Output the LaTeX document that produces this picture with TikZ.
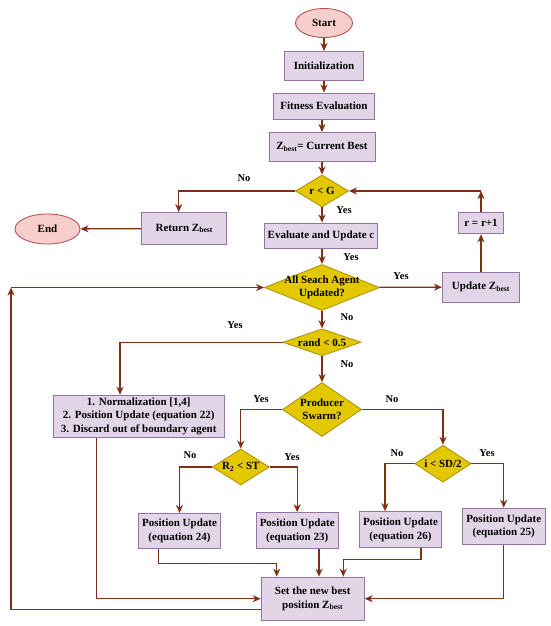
\documentclass[tikz,border=0pt]{standalone}
\usepackage{fontspec}
\setmainfont{Liberation Serif}
\usepackage{xcolor}
\usepackage{tikz}
\usetikzlibrary{arrows.meta}
\usetikzlibrary{shapes.geometric}

\definecolor{termfill}{HTML}{F8CECC}
\definecolor{termline}{HTML}{B85450}
\definecolor{procfill}{HTML}{E1D5E7}
\definecolor{procline}{HTML}{9673A6}
\definecolor{condfill}{HTML}{E3C800}
\definecolor{condline}{HTML}{B09500}
\definecolor{flowline}{HTML}{7E3014}

\tikzset{
    basenode/.style = {align=center, inner sep=1pt, text centered, font=\fontsize{11}{13.5}\selectfont\bfseries},
    terminal/.style = {basenode, ellipse, draw=termline, fill=termfill, line width=0.9pt},
    process/.style = {basenode, rectangle, draw=procline, fill=procfill, line width=1pt},
    decision/.style = {basenode, diamond, draw=condline, fill=condfill, line width=0.9pt, inner sep=0pt},
    dims/.style 2 args = {minimum width=#1pt, minimum height=#2pt},
    answer/.style = {font=\fontsize{10.5}{12}\selectfont\bfseries, inner sep=0pt},
    flow/.style = {->, draw=flowline, line width=1.3pt}
}

\begin{document}
\begin{tikzpicture}[-,>={Stealth[length=8pt, width=7pt, inset=2.5pt]}, x=1pt, y=-1pt]
    \useasboundingbox (0,0) rectangle (550,626);

    % main column
    \node[terminal, dims={57}{29}] (start) at (324,23) {Start};
    \node[process, dims={79}{29}] (init) at (324,66) {Initialization};
    \node[process, dims={101}{26}] (fit) at (324,106) {Fitness Evaluation};
    \node[process, dims={106}{29}] (zbest) at (322,147) {Z\textsubscript{best}= Current Best};
    \node[decision, dims={53}{32}, label={[basenode]center:r < G}] (rG) at (322,191) {};
    \node[process, dims={85}{32}] (ret) at (184.3,228.5) {Return Z\textsubscript{best}};
    \node[terminal, dims={65}{30}] (endn) at (47.5,229) {End};
    \node[process, dims={113}{25}] (eval) at (321,235.5) {Evaluate and Update c};
    \node[process, dims={45}{21}] (inc) at (481,223.3) {r = r+1};
    \node[decision, dims={115}{46}, label={[basenode]center:All Seach Agent\\Updated?}] (agents) at (322,287.5) {};
    \node[process, dims={77}{30}] (upd) at (481,287) {Update Z\textsubscript{best}};
    \node[decision, dims={78}{27}, label={[basenode]center:rand < 0.5}] (rand) at (322,342.3) {};
    \node[process, dims={171}{42}] (norm) at (138.7,416.3) {1. Normalization [1,4]\\2. Position Update (equation 22)\\3. Discard out of boundary agent};
    \node[decision, dims={79}{54}, label={[basenode]center:Producer\\Swarm?}] (prod) at (322,409.5) {};

    % branches
    \node[decision, dims={57}{36}, label={[basenode]center:R\textsubscript{2} < ST}] (r2) at (240.8,467) {};
    \node[decision, dims={56}{37}, label={[basenode]center:i < SD/2}] (isd) at (443,463.7) {};
    \node[process, dims={82}{35}] (pu24) at (179.5,531) {Position Update\\(equation 24)};
    \node[process, dims={82}{36}] (pu23) at (297.2,530.7) {Position Update\\(equation 23)};
    \node[process, dims={82}{36}] (pu26) at (400.5,529.7) {Position Update\\(equation 26)};
    \node[process, dims={83}{36}] (pu25) at (503.7,526.2) {Position Update\\(equation 25)};
    \node[process, dims={103}{43}] (set) at (312.7,598.7) {Set the new best\\position Z\textsubscript{best}};

    % yes / no
    \node[answer] (noG) at (244,178) {No};
    \node[answer] (yesG) at (344,210) {Yes};
    \node[answer] (yesEval) at (351,257) {Yes};
    \node[answer] (yesAgents) at (401,276) {Yes};
    \node[answer] (noAgents) at (347,317) {No};
    \node[answer] (yesRand) at (235,325) {Yes};
    \node[answer] (noRand) at (347,364) {No};
    \node[answer] (yesProd) at (261,399) {Yes};
    \node[answer] (noProd) at (392,399) {No};
    \node[answer] (noR) at (190,455) {No};
    \node[answer] (yesR) at (292,457) {Yes};
    \node[answer] (noI) at (397,453) {No};
    \node[answer] (yesI) at (487,453) {Yes};

    % connectors
    \draw[flow] (start) -- (init);
    \draw[flow] (init) -- (fit);
    \draw[flow] (zbest.north |- fit.south) -- (zbest.north);
    \draw[flow] (zbest) -- (rG);
    \draw[flow] (rG.west) -| ([xshift=-5.6pt]ret.north);
    \draw[flow] (ret) -- (endn);
    \draw[flow] (rG.south) -- (eval.north -| rG.south);
    \draw[flow] (eval.south -| agents.north) -- (agents.north);
    \draw[flow] (agents) -- (upd);
    \draw[flow] (upd) -- (inc);
    \coordinate (incturn) at (inc.north |- rG.east);
    \draw[flow] (inc) -- (incturn);
    \draw[flow] (incturn) -- (rG.east);
    \draw[flow] (agents) -- (rand);
    \draw[flow] (rand.west) -| ([xshift=-18.7pt]norm.north);
    \draw[flow] (rand) -- (prod);
    \draw[flow] (prod.west) -| (r2.north);
    \draw[flow] (prod.east) -| (isd.north);
    \draw[flow] (r2.west) -| (pu24.north);
    \draw[flow] (r2.east) -| (pu23.north);
    \draw[flow] (isd.west) -| ([xshift=-15.5pt]pu26.north);
    \draw[flow] (isd.east) -| (pu25.north);
    \draw[flow] ([xshift=-20.8pt]pu24.south) -- ++(0,14.6) -| ([xshift=-36pt]set.north);
    \draw[flow] ([xshift=21.8pt]pu23.south) -- ([xshift=21.8pt]pu23.south |- set.north);
    \draw[flow] ([xshift=20.5pt]pu26.south) -- ++(0,11.6) -| ([xshift=30.6pt]set.north);
    \draw[flow] (pu25.south) |- (set.east);
    \draw[flow] ([xshift=-42pt]norm.south) |- (set.west);
    \coordinate (setexit) at ([yshift=-10.6pt]set.west);
    \coordinate (lefttop) at (11,0 |- agents.west);
    \draw[flow] (setexit) -| (lefttop);
    \draw[flow] (lefttop) -- (agents.west);
\end{tikzpicture}
\end{document}
